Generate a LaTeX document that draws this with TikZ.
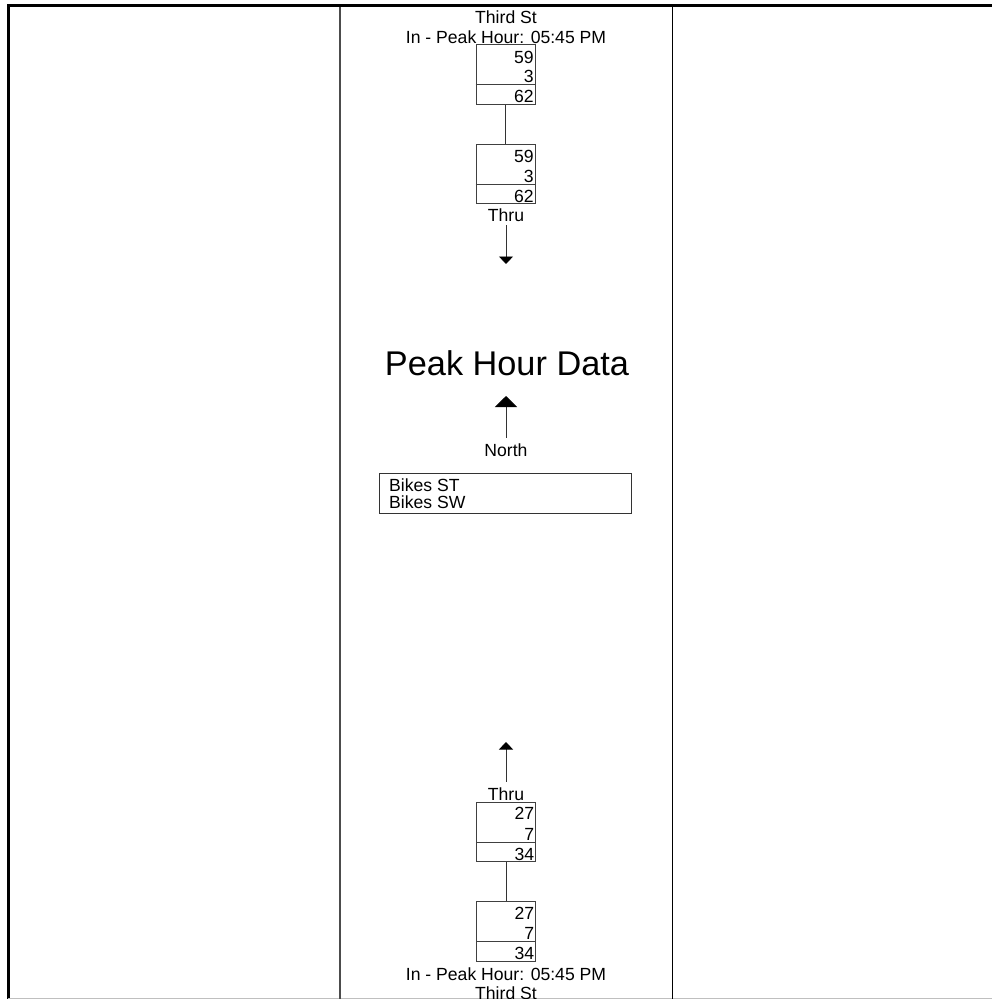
\documentclass[tikz,border=0pt]{standalone}
\usepackage{fontspec}
\setmainfont{Liberation Sans}
\usetikzlibrary{arrows.meta, positioning}
\tikzset{
    frame/.style={line width=3.5pt, black},
    divider/.style={line width=1.3pt},
    countbox/.style={rectangle, draw=black!75, line width=0.9pt, minimum width=59pt, minimum height=59.5pt, inner sep=0pt},
    label/.style={inner sep=0pt, text height=12.5pt, text depth=0pt, font=\fontsize{17.6}{19}\selectfont},
    count/.style={label, anchor=east},
    sepline/.style={draw=black!75, line width=0.9pt},
    link/.style={draw=black!80, line width=0.9pt},
    arrow/.style={draw=black!80, line width=0.9pt, -{Triangle[width=14pt, length=7.5pt, black]}}
}

\begin{document}
\begin{tikzpicture}[x=1pt, y=-1pt]
    \useasboundingbox (0,0) rectangle (992,999);
    % page frame
    \draw [frame] (7,5.5) -- (992,5.5);
    \draw [frame] (8.5,4) -- (8.5,999);
    \draw [black!25, line width=1pt] (8,998) -- (992,998);
    \draw [divider, black!70] (340,7) -- (340,999);
    \draw [divider] (672.5,7) -- (672.5,999);

    % north leg
    \node (streetn) [label] at (506,17) {Third St};
    \node (peakn) [label] at (506,37) {In - Peak Hour: 05:45 PM};
    \node (ina) [countbox] at (505.5,74.5) {};
    \draw [sepline] ([yshift=20pt]ina.south west) -- ([yshift=20pt]ina.south east);
    \node (inaa) [count] at ([xshift=-1.5pt, yshift=-12.5pt]ina.north east) {59};
    \node (inab) [count] at ([xshift=-1.5pt, yshift=-32pt]ina.north east) {3};
    \node (inac) [count] at ([xshift=-1.5pt, yshift=-52pt]ina.north east) {62};
    \node (thrua) [countbox] at (505.5,174) {};
    \draw [sepline] ([yshift=20pt]thrua.south west) -- ([yshift=20pt]thrua.south east);
    \node (thruaa) [count] at ([xshift=-1.5pt, yshift=-12.5pt]thrua.north east) {59};
    \node (thruab) [count] at ([xshift=-1.5pt, yshift=-32pt]thrua.north east) {3};
    \node (thruac) [count] at ([xshift=-1.5pt, yshift=-52pt]thrua.north east) {62};
    \node (thrun) [label] at (506,215.5) {Thru};
    \coordinate (thrunend) at (506,264);
    \draw [link] (ina) -- (thrua);
    \draw [arrow, shorten <=3.5pt] (thrun) -- (thrunend);

    % title and compass
    \node (title) [inner sep=0pt, text height=24.5pt, text depth=0pt, font=\fontsize{34.3}{38}\selectfont] at (507,363) {Peak Hour Data};
    \node (north) [label] at (506,450) {North};
    \coordinate (northtip) at (506,396);
    \draw [draw=black!80, line width=0.9pt, -{Triangle[width=22pt, length=11pt, black]}, shorten <=6pt] (north) -- (northtip);

    % legend
    \node (legend) [rectangle, draw=black!80, line width=0.9pt, minimum width=252pt, minimum height=40pt, inner sep=0pt] at (505,493) {};
    \node (bikesst) [label, anchor=west] at (389,485) {Bikes ST};
    \node (bikessw) [label, anchor=west] at (389,502) {Bikes SW};

    % south leg
    \node (thrus) [label] at (506,794.5) {Thru};
    \coordinate (thrusend) at (506,742);
    \draw [arrow, shorten <=6.5pt] (thrus) -- (thrusend);
    \node (thrub) [countbox] at (506,832) {};
    \draw [sepline] ([yshift=20pt]thrub.south west) -- ([yshift=20pt]thrub.south east);
    \node (thruba) [count] at ([xshift=-1.5pt, yshift=-11.5pt]thrub.north east) {27};
    \node (thrubb) [count] at ([xshift=-1.5pt, yshift=-32pt]thrub.north east) {7};
    \node (thrubc) [count] at ([xshift=-1.5pt, yshift=-52pt]thrub.north east) {34};
    \node (inb) [countbox] at (506,931.5) {};
    \draw [sepline] ([yshift=20pt]inb.south west) -- ([yshift=20pt]inb.south east);
    \node (inba) [count] at ([xshift=-1.5pt, yshift=-12pt]inb.north east) {27};
    \node (inbb) [count] at ([xshift=-1.5pt, yshift=-31.5pt]inb.north east) {7};
    \node (inbc) [count] at ([xshift=-1.5pt, yshift=-52pt]inb.north east) {34};
    \draw [link] (thrub) -- (inb);
    \node (peaks) [label] at (506,974) {In - Peak Hour: 05:45 PM};
    \node (streets) [label] at (506,993.5) {Third St};
\end{tikzpicture}
\end{document}
